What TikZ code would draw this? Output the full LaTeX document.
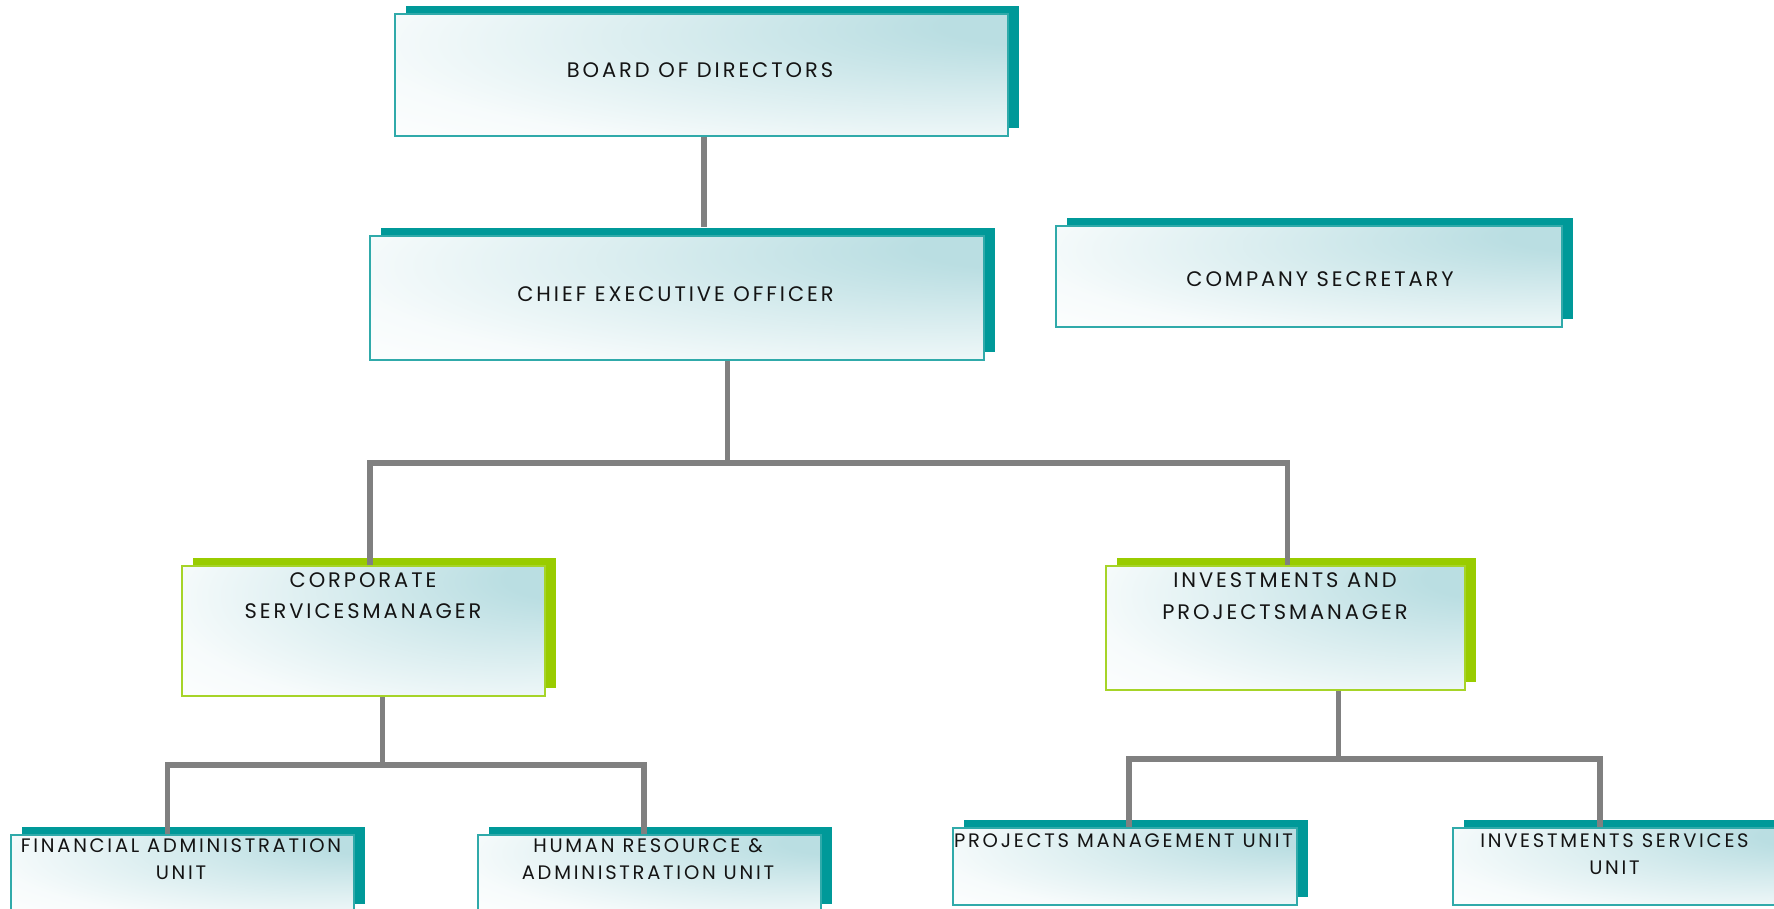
\documentclass[tikz,border=0pt]{standalone}
\usepackage{fontspec}
\setmainfont{Poppins}[LetterSpace=14]
\usetikzlibrary{shadows,calc}

\definecolor{shteal}{RGB}{0,153,153}
\definecolor{edgeteal}{RGB}{48,170,170}
\definecolor{tint}{RGB}{186,222,226}
\definecolor{shgreen}{RGB}{153,204,0}
\definecolor{edgegreen}{RGB}{166,212,40}
\definecolor{wire}{RGB}{128,128,128}
\definecolor{ink}{RGB}{20,20,20}

% soft glow towards the upper right of each panel
\pgfdeclareradialshading{panelglow}{\pgfpoint{30bp}{22bp}}{%
  color(0bp)=(tint); color(8bp)=(tint); color(24bp)=(tint!60!white);
  color(44bp)=(tint!12!white); color(58bp)=(white); color(100bp)=(white)}

\tikzset{
  panel/.style={rectangle, line width=2pt, inner sep=0pt, shading=panelglow},
  tealbox/.style={panel, draw=edgeteal,
    general shadow={fill=shteal, draw=none, shadow xshift=11pt, shadow yshift=8pt}},
  greenbox/.style={panel, draw=edgegreen,
    general shadow={fill=shgreen, draw=none, shadow xshift=11pt, shadow yshift=8pt}},
  caption/.style={font=\fontsize{21}{28}\selectfont, text=ink, align=center, inner sep=0pt},
  wirestyle/.style={draw=wire, line width=5.5pt},
}

\begin{document}
\begin{tikzpicture}[x=1pt,y=-1pt]
\useasboundingbox (0,0) rectangle (1774,909);
\clip (0,0) rectangle (1774,909);

% boxes
\node[tealbox, minimum width=613pt, minimum height=122pt] (board) at (701.5,75) {};
\node[tealbox, minimum width=614pt, minimum height=123pt] (ceo) at (677,298) {};
\node[tealbox, minimum width=506pt, minimum height=101pt] (sec) at (1309,276.5) {};
\node[greenbox, minimum width=363pt, minimum height=130pt] (corp) at (363.5,631) {};
\node[greenbox, minimum width=359pt, minimum height=124pt] (inv) at (1285.5,628) {};
\node[tealbox, minimum width=343pt, minimum height=77pt] (fin) at (182.5,873.5) {};
\node[tealbox, minimum width=343pt, minimum height=77pt] (hr) at (649,873.5) {};
\node[tealbox, minimum width=344pt, minimum height=77pt] (pm) at (1124.5,866.5) {};
\node[tealbox, minimum width=344pt, minimum height=77pt] (is) at (1624.5,866.5) {};

% captions
\node[caption] (boardT) at (700,70) {BOARD OF DIRECTORS};
\node[caption] (ceoT) at (675.5,294) {CHIEF EXECUTIVE OFFICER};
\node[caption] (secT) at (1320,279.5) {COMPANY SECRETARY};
\node[caption, font=\fontsize{21}{31}\selectfont] (corpT) at (363,596) {CORPORATE\\SERVICESMANAGER};
\node[caption, font=\fontsize{21}{32}\selectfont] (invT) at (1285,596) {INVESTMENTS AND\\PROJECTSMANAGER};
\node[caption, font=\fontsize{19.5}{27}\selectfont] (finT) at (181,859.5) {FINANCIAL ADMINISTRATION\\UNIT};
\node[caption, font=\fontsize{19.5}{27}\selectfont] (hrT) at (648,859.5) {HUMAN RESOURCE \&\\ADMINISTRATION UNIT};
\node[caption, font=\fontsize{19.5}{27}\selectfont] (pmT) at (1123.5,841) {PROJECTS MANAGEMENT UNIT};
\node[caption, font=\fontsize{19.5}{27}\selectfont] (isT) at (1614.5,854) {INVESTMENTS SERVICES\\UNIT};

% connectors
\coordinate (busA) at (727.5,463);
\coordinate (busB) at (382.5,765);
\coordinate (busC) at (1338.5,759);
\draw[wirestyle] (704,0 |- board.south) -- ($(704,0 |- ceo.north)+(0,-8)$);
\draw[wirestyle] (727.5,0 |- ceo.south) -- (busA);
\draw[wirestyle] (370,0 |- corp.north) |- (busA) -| (1287.5,0 |- inv.north);
\draw[wirestyle] (382.5,0 |- corp.south) -- (busB);
\draw[wirestyle] (167.5,0 |- fin.north) |- (busB) -| (644,0 |- hr.north);
\draw[wirestyle] (1338.5,0 |- inv.south) -- (busC);
\draw[wirestyle] (1129,0 |- pm.north) |- (busC) -| (1600,0 |- is.north);
\end{tikzpicture}
\end{document}
